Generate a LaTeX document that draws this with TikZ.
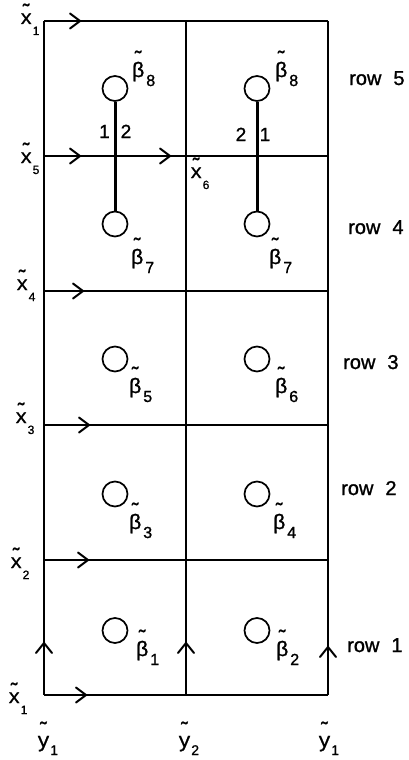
\documentclass[tikz,border=0pt]{standalone}
\usepackage{fontspec}
\setmainfont{Liberation Sans}[FakeBold=1.2]
\setmonofont{Liberation Mono}[FakeBold=1.2]
\newcommand\tildeon[2]{\ooalign{#2\cr\hidewidth\raisebox{#1}{\fontsize{20}{20}\selectfont\char"02DC}\hidewidth\cr}}
\newcommand\xlab[1]{{\fontsize{20}{20}\selectfont\tildeon{6pt}{\ttfamily x}}\kern0.5pt\raisebox{-11pt}{\fontsize{12}{12}\selectfont #1}}
\newcommand\ylab[1]{{\fontsize{21}{21}\selectfont\tildeon{11pt}{\ttfamily y}}\kern0.5pt\raisebox{-8pt}{\fontsize{14}{14}\selectfont #1}}
\newcommand\blab[1]{{\fontsize{21}{21}\selectfont\tildeon{12pt}{β}}\kern2pt\raisebox{-9pt}{\fontsize{16}{16}\selectfont #1}}
\tikzset{
  grid/.style={line width=2pt},
  bar/.style={line width=3pt},
  dot/.style={circle,draw,line width=1.7pt,minimum size=25pt,inner sep=0pt},
  lbl/.style={anchor=base west,inner sep=0pt},
  rowlbl/.style={anchor=base west,inner sep=0pt,font=\fontsize{20}{20}\selectfont},
  num/.style={anchor=base,inner sep=0pt,font=\fontsize{19}{19}\selectfont},
  chevR/.pic={\draw[line width=2pt,line cap=round,line join=miter] (-10,-7.5) -- (0,0) -- (-10,7.5);},
  chevU/.pic={\draw[line width=2pt,line cap=round,line join=miter] (-8,10) -- (0,0) -- (8,10);}
}
\begin{document}
\begin{tikzpicture}[x=1pt,y=-1pt]
\useasboundingbox (0,0) rectangle (408,760);
\foreach \n/\yy in {0/21,1/156,2/291,3/425,4/560,5/695} {
  \coordinate (L\n) at (44,\yy);
  \coordinate (M\n) at (186,\yy);
  \coordinate (R\n) at (328,\yy);
}
\foreach \n in {0,...,5} \draw[grid] (L\n) -- (R\n);
\draw[grid] (L0) -- (L5);
\draw[grid] (M0) -- (M5);
\draw[grid] (R0) -- (R5);
% chevrons
\pic at (80,21) {chevR};
\pic at (80,156) {chevR};
\pic at (170,156) {chevR};
\pic at (83,291) {chevR};
\pic at (89,425) {chevR};
\pic at (88,560) {chevR};
\pic at (86,695) {chevR};
\pic at (44,643) {chevU};
\pic at (186,643) {chevU};
\pic at (328,647) {chevU};
% circles
\node[dot] (a8) at (115,88.5) {};
\node[dot] (b8) at (257,88.5) {};
\node[dot] (a7) at (115,224) {};
\node[dot] (b7) at (257,224) {};
\node[dot] (a5) at (115,359) {};
\node[dot] (b6) at (257,359) {};
\node[dot] (a3) at (115,494) {};
\node[dot] (b4) at (257,494) {};
\node[dot] (a1) at (115,630.5) {};
\node[dot] (b2) at (257,630.5) {};
\draw[bar] (a8) -- (a7);
\draw[bar] (b8) -- (b7);
% strand numbers
\node[num] (n1a) at (104.5,138) {1};
\node[num] (n2a) at (126,138) {2};
\node[num] (n2b) at (241,141) {2};
\node[num] (n1b) at (265,141) {1};
% beta labels
\node[lbl] (lb8) at (132,77) {\blab{8}};
\node[lbl] (rb8) at (275,77) {\blab{8}};
\node[lbl] (lb7) at (131,264) {\blab{7}};
\node[lbl] (rb7) at (269,264) {\blab{7}};
\node[lbl] (lb5) at (129,393) {\blab{5}};
\node[lbl] (rb6) at (275,393) {\blab{6}};
\node[lbl] (lb3) at (129,529) {\blab{3}};
\node[lbl] (rb4) at (273,529) {\blab{4}};
\node[lbl] (lb1) at (136,656) {\blab{1}};
\node[lbl] (rb2) at (276,656) {\blab{2}};
% x labels
\node[lbl] (x1t) at (20,24) {\xlab{1}};
\node[lbl] (x5) at (20,163) {\xlab{5}};
\node[lbl] (x6) at (190,178) {\xlab{6}};
\node[lbl] (x4) at (16,290) {\xlab{4}};
\node[lbl] (x3) at (15,423) {\xlab{3}};
\node[lbl] (x2) at (10,568) {\xlab{2}};
\node[lbl] (x1b) at (8,703) {\xlab{1}};
% y labels
\node[lbl] (y1l) at (37,747) {\ylab{1}};
\node[lbl] (y2) at (178,747) {\ylab{2}};
\node[lbl] (y1r) at (318,747) {\ylab{1}};
% row labels
\node[rowlbl] (r5) at (349,85) {row\hspace{12pt}5};
\node[rowlbl] (r4) at (348,234) {row\hspace{12pt}4};
\node[rowlbl] (r3) at (343,369) {row\hspace{12pt}3};
\node[rowlbl] (r2) at (341,495) {row\hspace{12pt}2};
\node[rowlbl] (r1) at (347,652) {row\hspace{12pt}1};
\end{tikzpicture}
\end{document}
